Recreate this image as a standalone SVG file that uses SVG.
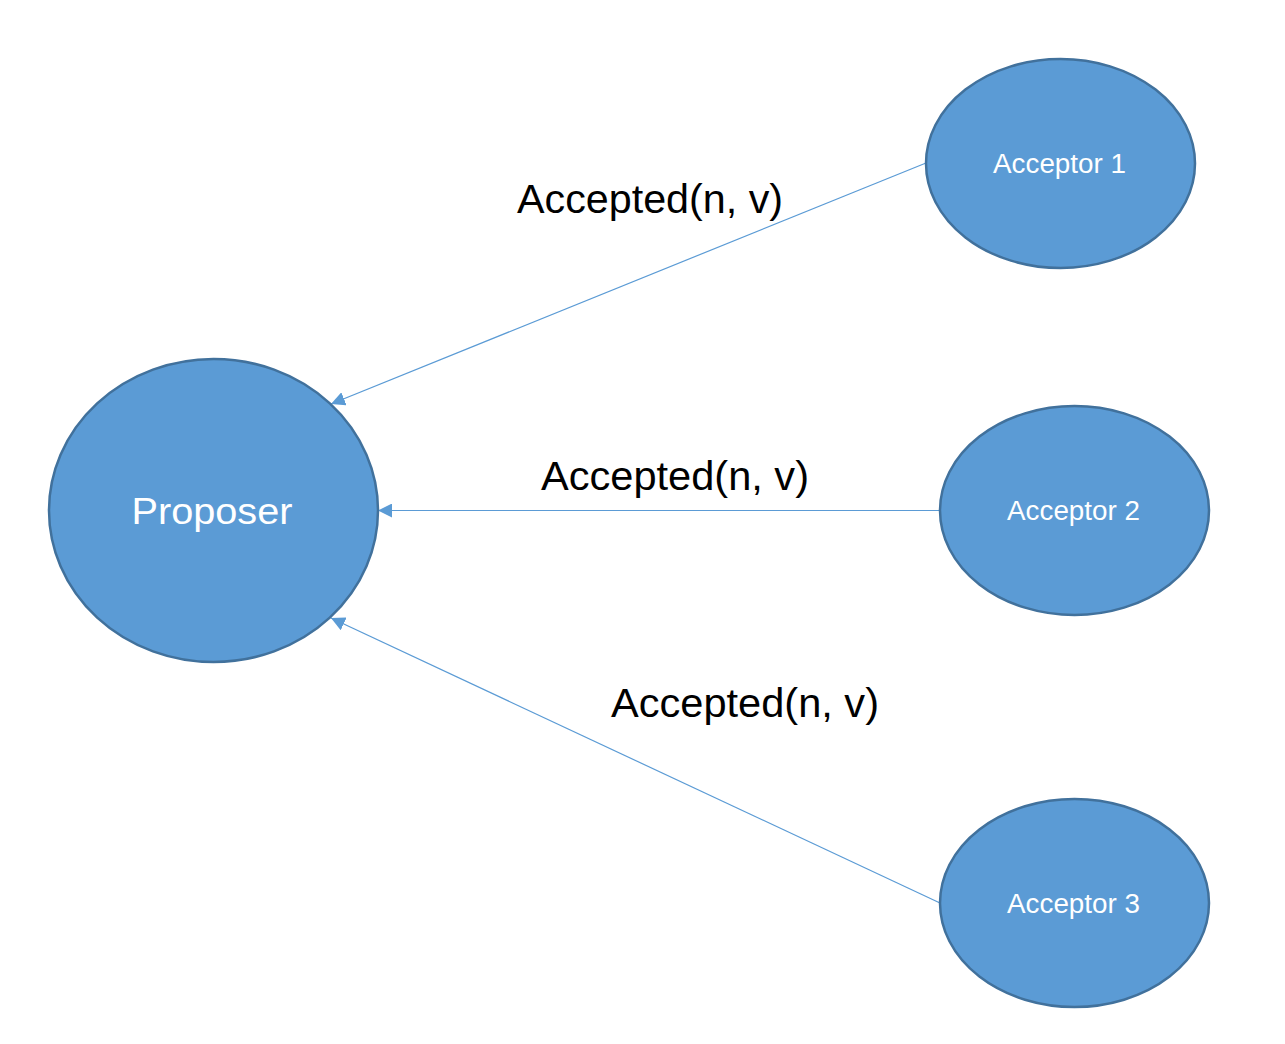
<svg xmlns="http://www.w3.org/2000/svg" width="1285" height="1044" viewBox="0 0 1285 1044">
<style>
.node{fill:#5B9BD5;stroke:#41719C;stroke-width:2.5}
.ntext{fill:#FFFFFF;font-family:"Liberation Sans",Arial,sans-serif;text-anchor:middle}
.conn{stroke:#5B9BD5;stroke-width:1.2;fill:none;marker-end:url(#arr)}
.lbl{fill:#000000;font-family:"Liberation Sans",Arial,sans-serif;font-size:40px}
</style>
<defs>
<marker id="arr" markerUnits="userSpaceOnUse" markerWidth="15" markerHeight="14" refX="14" refY="7" orient="auto">
<path d="M0,0 L14,7 L0,14 Z" fill="#5B9BD5"/>
</marker>
</defs>
<rect width="1285" height="1044" fill="#FFFFFF"/>
<g id="connectors">
<line class="conn" x1="926" y1="163" x2="331" y2="404"/>
<line class="conn" x1="940" y1="510.5" x2="378" y2="510.5"/>
<line class="conn" x1="940" y1="903" x2="331" y2="618"/>
<text class="lbl" x="517" y="213" textLength="266" lengthAdjust="spacingAndGlyphs">Accepted(n, v)</text>
<text class="lbl" x="541" y="490" textLength="268" lengthAdjust="spacingAndGlyphs">Accepted(n, v)</text>
<text class="lbl" x="611" y="717" textLength="268" lengthAdjust="spacingAndGlyphs">Accepted(n, v)</text>
</g>
<g id="proposer">
<ellipse class="node" cx="213.5" cy="510.5" rx="164.5" ry="151.5"/>
<text class="ntext" x="212" y="524" font-size="37" textLength="161" lengthAdjust="spacingAndGlyphs">Proposer</text>
</g>
<g id="acceptor1">
<ellipse class="node" cx="1060.5" cy="163.5" rx="134.5" ry="104.5"/>
<text class="ntext" x="1059.5" y="173" font-size="27" textLength="133" lengthAdjust="spacingAndGlyphs">Acceptor 1</text>
</g>
<g id="acceptor2">
<ellipse class="node" cx="1074.5" cy="510.5" rx="134.5" ry="104.5"/>
<text class="ntext" x="1073.5" y="520" font-size="27" textLength="133" lengthAdjust="spacingAndGlyphs">Acceptor 2</text>
</g>
<g id="acceptor3">
<ellipse class="node" cx="1074.5" cy="903" rx="134.5" ry="104"/>
<text class="ntext" x="1073.5" y="912.5" font-size="27" textLength="133" lengthAdjust="spacingAndGlyphs">Acceptor 3</text>
</g>
</svg>
